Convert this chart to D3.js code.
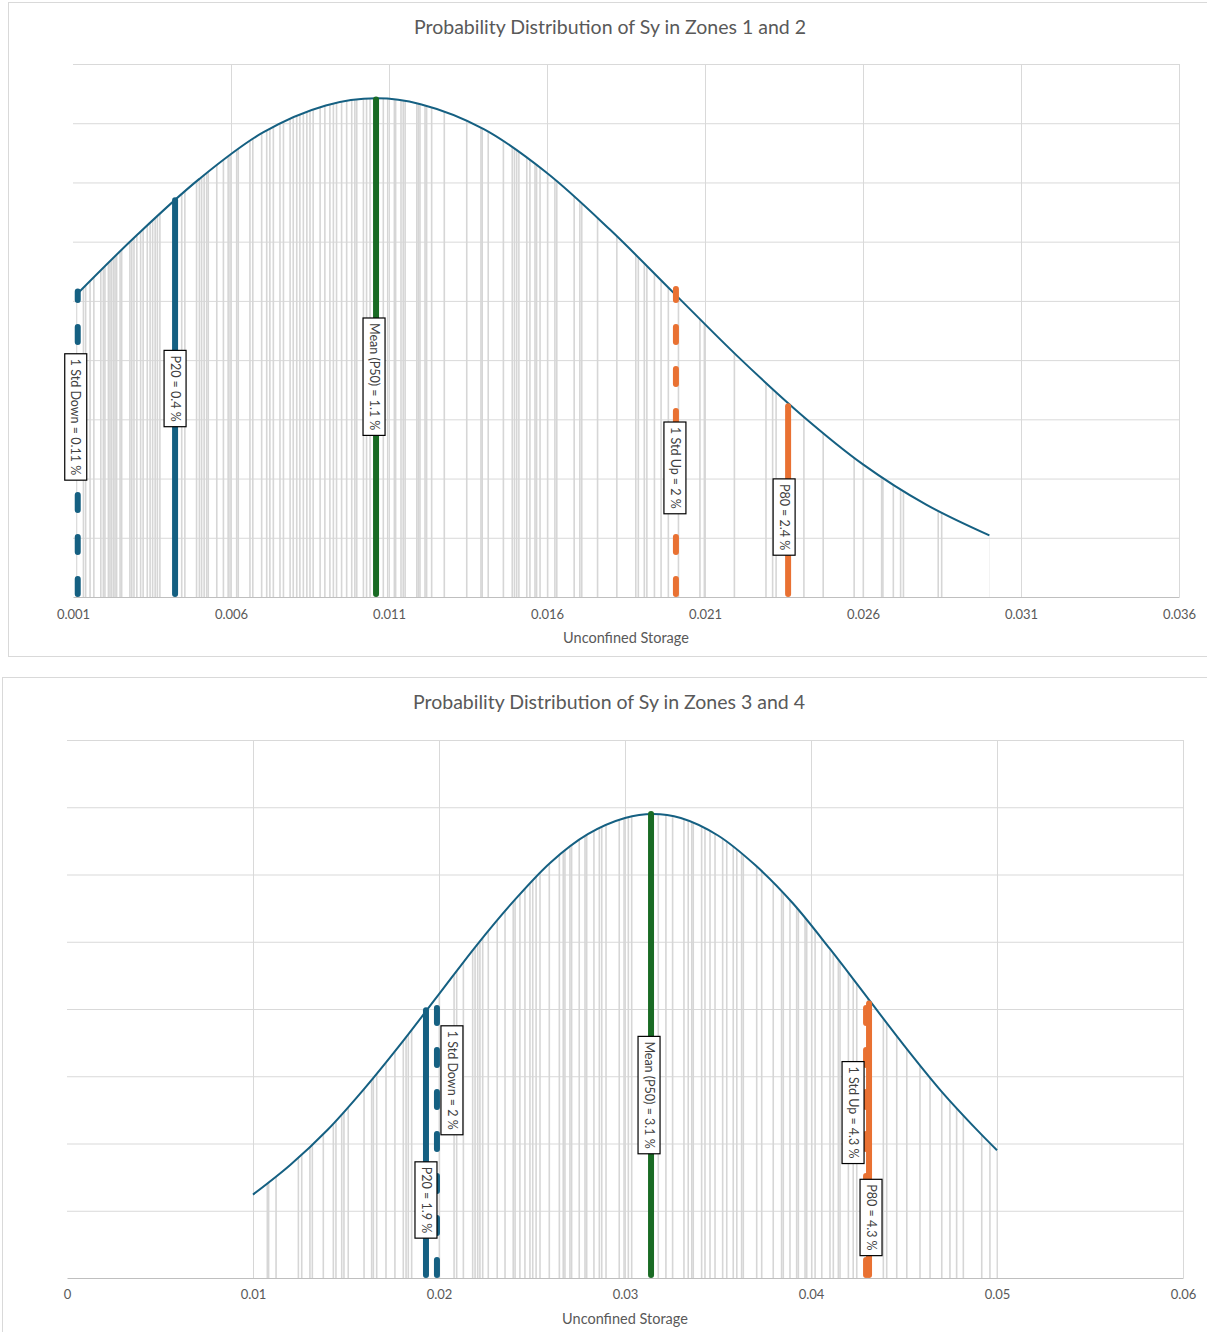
<!DOCTYPE html>
<html>
<head>
<meta charset="utf-8">
<script src="https://cdn.jsdelivr.net/npm/d3@7"></script>
<style>
  body { margin: 0; background: #fff; }
  text { font-family: Lato, "Open Sans", sans-serif; }
</style>
</head>
<body>
<script>
// ---- Zones 1 and 2 ----
const z12Title = "Probability Distribution of Sy in Zones 1 and 2";
const z12TickValues = [0.001, 0.006, 0.011, 0.016, 0.021, 0.026, 0.031, 0.036];
const z12TickLabels = ["0.001", "0.006", "0.011", "0.016", "0.021", "0.026", "0.031", "0.036"];
// sample Sy values (grey drop lines)
const z12Samples = [0.00111, 0.00133, 0.00140, 0.00154, 0.00166, 0.00188, 0.00196, 0.00201, 0.00212, 0.00217,
  0.00222, 0.00228, 0.00233, 0.00238, 0.00249, 0.00254, 0.00280, 0.00286, 0.00293, 0.00302, 0.00314,
  0.00322, 0.00335, 0.00344, 0.00352, 0.00360, 0.00367, 0.00375, 0.00423, 0.00444, 0.00454, 0.00491,
  0.00500, 0.00507, 0.00515, 0.00523, 0.00528, 0.00555, 0.00576, 0.00591, 0.00597, 0.00618, 0.00623,
  0.00660, 0.00669, 0.00697, 0.00713, 0.00723, 0.00734, 0.00755, 0.00766, 0.00787, 0.00797, 0.00808,
  0.00818, 0.00829, 0.00840, 0.00850, 0.00860, 0.00882, 0.00897, 0.00913, 0.00924, 0.00934, 0.00950,
  0.00966, 0.00982, 0.00992, 0.00998, 0.01019, 0.01029, 0.01040, 0.01059, 0.01082, 0.01096, 0.01117,
  0.01121, 0.01138, 0.01145, 0.01151, 0.01188, 0.01193, 0.01198, 0.01214, 0.01219, 0.01235, 0.01275,
  0.01346, 0.01391, 0.01395, 0.01414, 0.01462, 0.01490, 0.01497, 0.01504, 0.01511, 0.01536, 0.01546,
  0.01562, 0.01567, 0.01578, 0.01602, 0.01625, 0.01631, 0.01686, 0.01704, 0.01710, 0.01760, 0.01821,
  0.01881, 0.01889, 0.01908, 0.01916, 0.01940, 0.01961, 0.01984, 0.02016, 0.02084, 0.02098, 0.02193,
  0.02293, 0.02314, 0.02325, 0.02363, 0.02413, 0.02474, 0.02572, 0.02601, 0.02659, 0.02663, 0.02696,
  0.02719, 0.02728, 0.02838, 0.02849, 0.03002];
// probability density curve [Sy, density]
const z12Curve = [[0.0011, 25.5], [0.003, 30.5], [0.005, 35.3], [0.007, 39.2], [0.009, 41.5], [0.0106, 42.1],
  [0.012, 41.6], [0.014, 39.5], [0.016, 35.8], [0.018, 31.0], [0.020, 25.7], [0.022, 20.4], [0.024, 15.5],
  [0.026, 11.2], [0.028, 7.8], [0.030, 5.2]];
const z12MarkerX = [0.00115, 0.00423, 0.01059, 0.02008, 0.02363];
const z12MarkerTop = [25.8, 33.5, 42.0, 26.0, 16.1];
const z12MarkerLabels = ["1 Std Down = 0.11 %", "P20 = 0.4 %", "Mean (P50) = 1.1 %", "1 Std Up = 2 %", "P80 = 2.4 %"];

// ---- Zones 3 and 4 ----
const z34Title = "Probability Distribution of Sy in Zones 3 and 4";
const z34TickValues = [0, 0.01, 0.02, 0.03, 0.04, 0.05, 0.06];
const z34TickLabels = ["0", "0.01", "0.02", "0.03", "0.04", "0.05", "0.06"];
const z34Samples = [0.01000, 0.01077, 0.01084, 0.01124, 0.01244, 0.01262, 0.01306, 0.01319, 0.01378, 0.01432,
  0.01446, 0.01477, 0.01489, 0.01512, 0.01597, 0.01638, 0.01647, 0.01665, 0.01715, 0.01763, 0.01808,
  0.01823, 0.01835, 0.01853, 0.01925, 0.02002, 0.02081, 0.02095, 0.02131, 0.02181, 0.02194, 0.02208,
  0.02220, 0.02235, 0.02265, 0.02313, 0.02355, 0.02399, 0.02409, 0.02435, 0.02462, 0.02489, 0.02504,
  0.02522, 0.02543, 0.02593, 0.02647, 0.02668, 0.02677, 0.02704, 0.02713, 0.02754, 0.02785, 0.02794,
  0.02833, 0.02862, 0.02875, 0.02898, 0.02969, 0.02995, 0.03018, 0.03036, 0.03140, 0.03179, 0.03220,
  0.03256, 0.03317, 0.03340, 0.03359, 0.03367, 0.03412, 0.03430, 0.03457, 0.03484, 0.03525, 0.03547,
  0.03582, 0.03601, 0.03627, 0.03636, 0.03708, 0.03735, 0.03797, 0.03842, 0.03851, 0.03887, 0.03923,
  0.03932, 0.03968, 0.03977, 0.04004, 0.04022, 0.04058, 0.04102, 0.04120, 0.04147, 0.04156, 0.04201,
  0.04227, 0.04246, 0.04306, 0.04389, 0.04407, 0.04461, 0.04515, 0.04586, 0.04640, 0.04703, 0.04747,
  0.04783, 0.04819, 0.04918, 0.04962, 0.05002];
const z34Curve = [[0.010, 6.2], [0.012, 8.4], [0.014, 11.0], [0.016, 14.1], [0.018, 17.5], [0.020, 21.1],
  [0.022, 24.7], [0.024, 28.0], [0.026, 30.9], [0.028, 33.0], [0.030, 34.2], [0.0315, 34.5], [0.033, 34.2],
  [0.035, 32.9], [0.037, 30.7], [0.039, 27.9], [0.041, 24.5], [0.043, 20.9], [0.045, 17.3], [0.047, 13.9],
  [0.049, 10.9], [0.050, 9.5]];
const z34MarkerX = [0.01989, 0.01930, 0.03140, 0.04296, 0.04312];
const z34MarkerTop = [20.4, 19.9, 34.5, 20.4, 20.4];
const z34MarkerLabels = ["1 Std Down = 2 %", "P20 = 1.9 %", "Mean (P50) = 3.1 %", "1 Std Up = 4.3 %", "P80 = 4.3 %"];

const blue = "#156082", orange = "#E97132", green = "#196B24";
const markerStyle = [
  {color: blue, dash: true}, {color: blue, dash: false}, {color: green, dash: false},
  {color: orange, dash: true}, {color: orange, dash: false}
];

const svg = d3.select("body").append("svg")
  .attr("width", 1207)
  .attr("height", 1332);

function drawChart(c) {
  const g = svg.append("g");

  //chart frame
  g.append("rect")
    .attr("x", c.frame[0] + 0.5).attr("y", c.frame[1] + 0.5)
    .attr("width", c.frame[2]).attr("height", c.frame[3])
    .attr("fill", "#fff").attr("stroke", "#d9d9d9");

  const x = d3.scaleLinear().domain(c.xDomain).range([c.left, c.right]);
  const y = d3.scaleLinear().domain(c.yDomain).range([c.bottom, c.top]);

  //horizontal gridlines
  g.append("g")
    .attr("transform", "translate(" + c.left + ",0)")
    .call(d3.axisLeft(y).tickValues(d3.range(c.yDomain[0] + c.yStep, c.yDomain[1] + 0.001, c.yStep))
      .tickSize(-(c.right - c.left)).tickFormat(""))
    .call(a => a.select(".domain").remove())
    .selectAll("line").attr("stroke", "#d9d9d9");

  //vertical gridlines
  g.append("g")
    .attr("transform", "translate(0," + c.bottom + ")")
    .call(d3.axisBottom(x).tickValues(c.ticks.slice(1)).tickSize(-(c.bottom - c.top)).tickFormat(""))
    .call(a => a.select(".domain").remove())
    .selectAll("line").attr("stroke", "#d9d9d9");

  //clip drop lines to the area below the curve
  const area = d3.area().x(d => x(d[0])).y0(y(0)).y1(d => y(d[1])).curve(d3.curveCatmullRom);
  g.append("clipPath").attr("id", c.id + "clip")
    .append("path").attr("d", area(c.curve));

  g.append("g")
    .attr("clip-path", "url(#" + c.id + "clip)")
    .selectAll("line")
    .data(c.samples)
    .enter()
    .append("line")
    .attr("x1", d => x(d)).attr("x2", d => x(d))
    .attr("y1", y(0)).attr("y2", c.top)
    .attr("stroke", "#d6d6d6")
    .attr("stroke-width", 1.6);

  //x axis with labels
  const xAxis = g.append("g")
    .attr("transform", "translate(0," + c.bottom + ")")
    .call(d3.axisBottom(x).tickValues(c.ticks).tickSize(0).tickPadding(c.tickPad)
      .tickFormat((d, i) => c.tickLabels[i]));
  xAxis.select(".domain").attr("stroke", "#bfbfbf");
  xAxis.selectAll("text").attr("fill", "#595959").style("font-size", "13px");

  //density curve
  g.append("path")
    .datum(c.curve)
    .attr("d", d3.line().x(d => x(d[0])).y(d => y(d[1])).curve(d3.curveCatmullRom))
    .attr("fill", "none")
    .attr("stroke", blue)
    .attr("stroke-width", 2);

  //marker lines
  c.markerX.forEach((mx, i) => {
    const s = markerStyle[i];
    g.append("line")
      .attr("x1", x(mx)).attr("x2", x(mx))
      .attr("y1", y(0) - 3).attr("y2", y(c.markerTop[i]))
      .attr("stroke", s.color)
      .attr("stroke-width", 6)
      .attr("stroke-linecap", "round")
      .attr("stroke-dasharray", s.dash ? "15 27" : null);
  });

  //marker labels
  c.markerLabels.forEach((lab, i) => {
    const cx = x(c.markerX[i]) + c.labelDx[i];
    const cy = y(c.labelAt[i]);
    const lg = g.append("g").attr("transform", "translate(" + cx + "," + cy + ") rotate(90)");
    const box = lg.append("rect");
    const t = lg.append("text")
      .attr("text-anchor", "middle")
      .attr("dy", "0.35em")
      .attr("fill", "#404040")
      .style("font-size", "12.5px")
      .text(lab);
    const len = t.node().getComputedTextLength() + 10;
    box.attr("x", -len / 2).attr("y", -11).attr("width", len).attr("height", 22)
      .attr("fill", "#fff").attr("stroke", "#000").attr("stroke-width", 1.2);
  });

  //titles
  g.append("text")
    .attr("x", c.titleX).attr("y", c.titleY)
    .attr("text-anchor", "middle")
    .attr("fill", "#595959")
    .style("font-size", "19.5px")
    .text(c.title);

  g.append("text")
    .attr("x", c.axisTitleX).attr("y", c.axisTitleY)
    .attr("text-anchor", "middle")
    .attr("fill", "#595959")
    .style("font-size", "14.5px")
    .text("Unconfined Storage");
}

drawChart({
  id: "z12", title: z12Title,
  frame: [8, 2, 1210, 654],
  left: 73, right: 1179, top: 64, bottom: 597,
  xDomain: [0.001, 0.036], yDomain: [0, 45], yStep: 5,
  ticks: z12TickValues, tickLabels: z12TickLabels, tickPad: 13,
  samples: z12Samples, curve: z12Curve,
  markerX: z12MarkerX, markerTop: z12MarkerTop, markerLabels: z12MarkerLabels,
  labelAt: [15.2, 17.6, 18.6, 10.9, 6.75], labelDx: [-2, 0, -2, -1, -4],
  titleX: 610, titleY: 34, axisTitleX: 626, axisTitleY: 643
});

drawChart({
  id: "z34", title: z34Title,
  frame: [2, 677, 1215, 670],
  left: 67, right: 1183, top: 740, bottom: 1278,
  xDomain: [0, 0.06], yDomain: [0, 40], yStep: 5,
  ticks: z34TickValues, tickLabels: z34TickLabels, tickPad: 12,
  samples: z34Samples, curve: z34Curve,
  markerX: z34MarkerX, markerTop: z34MarkerTop, markerLabels: z34MarkerLabels,
  labelAt: [14.7, 5.8, 13.6, 12.3, 4.5], labelDx: [15, 0, -2, -13, 2],
  titleX: 609, titleY: 709, axisTitleX: 625, axisTitleY: 1324
});
</script>
</body>
</html>
